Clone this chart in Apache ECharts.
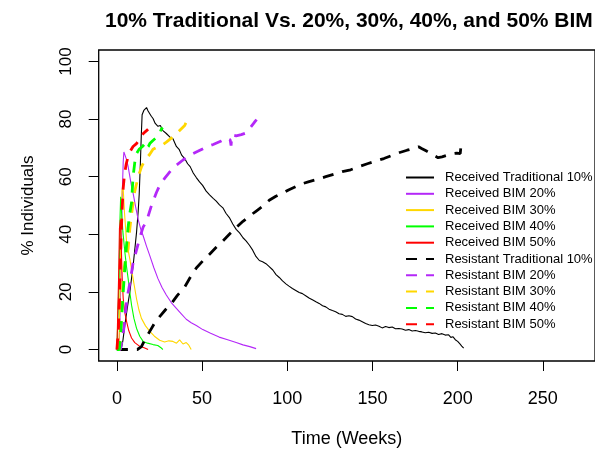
<!DOCTYPE html>
<html><head><meta charset="utf-8">
<script src="https://cdn.jsdelivr.net/npm/echarts@6/dist/echarts.min.js"></script>
<style>html,body{margin:0;padding:0;background:#fff}#c{width:595px;height:453px}</style>
</head><body><div id="c"></div>
<script>
// ---- data (time in weeks, % individuals) ----
const xTicks = [0, 50, 100, 150, 200, 250];
const yTicks = [0, 20, 40, 60, 80, 100];
const seriesNames = [
  'Received Traditional 10%', 'Received BIM 20%', 'Received BIM 30%', 'Received BIM 40%', 'Received BIM 50%',
  'Resistant Traditional 10%', 'Resistant BIM 20%', 'Resistant BIM 30%', 'Resistant BIM 40%', 'Resistant BIM 50%'
];
const recTrad10 = [[0,0],[2.5,0],[3.5,3],[4.7,8.6],[6,14],[7.6,20],[9.5,29],[11.5,40.5],[12.5,48],[13.1,54],[13.8,65],[14.3,74],[14.8,81.5],[15.8,83],[16.5,82.5],[17.4,84],[18.3,82.8],[19.3,83],[20.2,81],[21.2,80.2],[22.5,78.5],[24.1,77.5],[25.5,77.8],[27,76],[29,75],[31,73.8],[32.9,73.2],[34.9,70.5],[36.5,69.5],[38,67.5],[39.8,66.3],[41.5,64.5],[43,63.5],[44.8,61.3],[46.6,59.7],[48.5,58.2],[50.3,57],[52.4,55],[54.4,53.7],[56.5,52.5],[58.3,51.5],[60.2,50.2],[62.2,49.2],[64,47.3],[66,45.8],[68,43.6],[70,41.7],[72,40.5],[74,38.8],[75.8,37.7],[77.8,36.2],[79.7,34.5],[81.6,32.3],[83.6,30.9],[85.5,30.5],[87.5,29.8],[89.4,28.8],[91.5,27.6],[93.4,26],[95.3,25],[97.2,23.8],[99.2,22.8],[101,22],[103,21.2],[105,20.5],[107,19.8],[108.9,19.4],[111,18.6],[113,17.8],[115,17.2],[116.8,16.6],[118.7,16],[120.7,15.2],[122.6,14.8],[124.5,14],[126.5,13.5],[128.4,13.1],[130.4,12.4],[132.3,12.2],[134.3,11.5],[136.2,11.7],[138.2,11.4],[140.1,10.6],[142,10.2],[144,9.6],[146,9],[147.9,8.6],[149.9,8.3],[151.8,8.5],[153.8,8.1],[155.7,7.5],[157.7,8],[159.6,7.6],[161.6,7.8],[163.5,7.2],[165.5,7.3],[167.4,7.1],[169.4,6.7],[171.3,6.9],[173.3,6.4],[175.2,6.6],[177.1,6.3],[179,6.1],[181,5.8],[183,6],[185,5.6],[186.9,5.7],[188.8,5.2],[190.8,5.5],[192.7,5],[194.7,5.1],[196,4.2],[197.3,4.4],[198.6,3.4],[200,2.8],[201.2,2],[202.4,1.2],[203.5,0.5]];
const recBIM20 = [[0,0],[1.2,0],[2,15],[2.6,35],[3.2,55],[3.7,65],[4.1,68.6],[4.8,68],[5.6,66],[6.6,63.5],[7.6,60],[8.5,57],[9.5,54.3],[11,49.5],[12.5,45.1],[14,41.8],[15.4,39.5],[17.3,36],[19.3,32.6],[21.7,28.4],[24.1,24.6],[26.5,21.5],[29,18.9],[31.9,16.3],[34.9,14.3],[37.8,12.4],[40.7,10.5],[43.6,9.3],[46.6,8.3],[50.4,6.9],[55,5.6],[60,4.3],[65,3.4],[70,2.4],[74,1.6],[78,1],[81.7,0.3]];
const recBIM30 = [[0,0],[1.2,0],[1.8,20],[2.4,42],[3,55],[3.6,57],[4.4,48],[5.7,37.2],[7.6,31.4],[9.5,24.6],[11.5,17.7],[12.9,13.8],[14.4,10.8],[16.8,8.2],[19.3,6.3],[22,4.6],[25.1,3.2],[28,2.6],[30.5,3],[32.9,2.8],[35,2.2],[36.8,3.3],[38.8,1.9],[40.7,2.4],[42.2,1.5],[43.6,0]];
const recBIM40 = [[0,0],[0.8,0],[1.3,25],[1.8,45],[2.2,53],[2.7,48],[3.5,41],[4.7,33.7],[5.6,29],[6.6,24.6],[7.6,19.8],[8.6,15.4],[10,10.8],[11.5,7.4],[13.4,4.6],[15.4,2.8],[18,2.2],[21.2,1.7],[24,1.4],[26.1,0.5],[27,0]];
const recBIM50 = [[0,0],[0.5,0],[1,25],[1.5,42],[2,45],[2.6,35],[3.1,25],[3.7,17.7],[4.6,13],[5.7,9.7],[7,6.5],[8.6,4],[10.5,2.4],[13.4,1.1],[16,0.6],[18.3,0]];
const resTrad10 = [[0,0],[12,0],[14.4,1],[17,4],[19.3,6.3],[22,9],[25.1,11.4],[28.5,13.8],[32,16],[35.5,18.8],[39.8,21.7],[43,25],[46.6,28.3],[50.5,30.8],[54.4,33.1],[58.3,35.5],[62.2,37.7],[66,40],[70,42.3],[74,44.5],[77.8,46.3],[81.6,48],[85.5,49.7],[89.4,51.8],[93.3,53.2],[97.2,54.3],[101,55.5],[105.1,56.6],[109,57.6],[112.8,58.3],[117.7,59.1],[122.6,60],[127.5,60.9],[132.3,61.8],[137.2,62.4],[142.1,63.5],[147,64.5],[151.8,65.4],[156.7,66.3],[161.5,67.4],[166,68.4],[170.3,69.2],[174,69.8],[177,70.4],[179.1,69.7],[182,68.8],[185.9,67.4],[188.5,66.6],[190.8,66.9],[193.5,67.4],[196.6,68],[199.5,68.2],[201.5,68],[202,71],[203,71.5]];
const resBIM20 = [[0,0],[2,0],[3,3],[4,7],[5,13],[6,18],[7.6,23],[9.5,30],[11.5,34.5],[13.5,39],[15.4,42.5],[17.4,44.5],[20.3,50],[23.2,54.5],[25.1,57],[28.1,59.5],[31.5,62],[34.9,64],[38.8,65.8],[42.7,67.4],[47.5,68.8],[52.4,70.3],[56.5,71.2],[61.2,72.4],[64.5,73.5],[66.5,72.8],[67,70.8],[67.5,74.5],[70,74.2],[73,74.6],[75.8,75.2],[78,76.8],[80.7,78.9],[82,79.8]];
const resBIM30 = [[0,0],[1.5,0],[2.5,10],[3.7,26],[5,31],[6.6,35],[7.6,42],[8.6,47],[10.5,55],[12.5,60],[14.5,63.5],[16.4,65.7],[19.3,67.8],[21.2,69.5],[23.5,70.2],[26.1,70.8],[29,72],[32.9,73.8],[36,75.6],[39.8,77.8],[40.7,78.9],[41.5,79.5]];
const resBIM40 = [[0,0],[1.5,0],[2.5,8],[3.5,18],[4.5,27],[5.5,35],[6.5,42],[7.5,47],[8.6,51],[9.5,60],[10.5,65],[11.5,68],[13,69.5],[15,70.5],[16.5,71.5],[17.5,69.8],[18.5,70.5],[19.3,71.5],[21,72.5],[23,73.5],[25.1,75],[26.1,76.6],[27,77]];
const resBIM50 = [[0,0],[0.5,0],[1,8],[1.5,18],[2,29],[2.5,39],[3,48],[3.7,56],[4.5,61],[5.5,64.5],[6.6,67],[8,69],[9.5,70.5],[11.5,71.5],[13.4,73],[15.5,75],[17.4,76],[18.3,76.5]];

const seriesData = [recTrad10, recBIM20, recBIM30, recBIM40, recBIM50, resTrad10, resBIM20, resBIM30, resBIM40, resBIM50];
const seriesColors = ['#000000', '#B428F8', '#FFD700', '#00FF00', '#FF0000', '#000000', '#B428F8', '#FFD700', '#00FF00', '#FF0000'];
const seriesDashed = [false, false, false, false, false, true, true, true, true, true];

const FONT = 'Liberation Sans, Arial, Helvetica, sans-serif';
const chart = echarts.init(document.getElementById('c'), null, { renderer: 'canvas' });
chart.setOption({
  animation: false,
  backgroundColor: '#ffffff',
  title: {
    text: '10% Traditional Vs. 20%, 30%, 40%, and 50% BIM',
    left: 100, top: 6,
    textStyle: { fontFamily: FONT, fontSize: 21, fontWeight: 'bold', color: '#000' }
  },
  legend: {
    orient: 'vertical', left: 405, top: 171, padding: 0,
    itemWidth: 28, itemHeight: 14, itemGap: 3.3,
    data: seriesNames,
    itemStyle: { opacity: 0, borderWidth: 0 },
    textStyle: { fontFamily: FONT, fontSize: 13, color: '#000', padding: [0, 0, 0, 6] }
  },
  grid: { left: 98.7, top: 50, width: 498.3, height: 315, show: true, borderColor: '#000', borderWidth: 1.3, backgroundColor: 'transparent' },
  xAxis: {
    type: 'value', min: -10.68, max: 280.6,
    name: 'Time (Weeks)', nameLocation: 'middle', nameGap: 69,
    nameTextStyle: { fontFamily: FONT, fontSize: 18, color: '#000' },
    axisLine: { show: false, onZero: false },
    axisTick: { show: true, length: 10, inside: false, customValues: xTicks, lineStyle: { color: '#000', width: 1 } },
    axisLabel: { customValues: xTicks, margin: 29, fontFamily: FONT, fontSize: 18, color: '#000' },
    splitLine: { show: false }
  },
  yAxis: {
    type: 'value', min: -4, max: 104,
    name: '% Individuals', nameLocation: 'middle', nameGap: 62, nameRotate: 90,
    nameTextStyle: { fontFamily: FONT, fontSize: 17, color: '#000' },
    axisLine: { show: false, onZero: false },
    axisTick: { show: true, length: 10, inside: false, customValues: yTicks, lineStyle: { color: '#000', width: 1 } },
    axisLabel: { customValues: yTicks, rotate: 90, margin: 24, fontFamily: FONT, fontSize: 17, color: '#000' },
    splitLine: { show: false }
  },
  series: seriesNames.map((n, i) => ({
    name: n, type: 'line', data: seriesData[i],
    symbol: 'none', showSymbol: false, smooth: false,
    color: seriesColors[i],
    lineStyle: seriesDashed[i]
      ? { color: seriesColors[i], width: 2.8, type: [11, 9] }
      : { color: seriesColors[i], width: 1.1, type: 'solid' },
    z: 2 + i
  }))
});
</script>
</body></html>
